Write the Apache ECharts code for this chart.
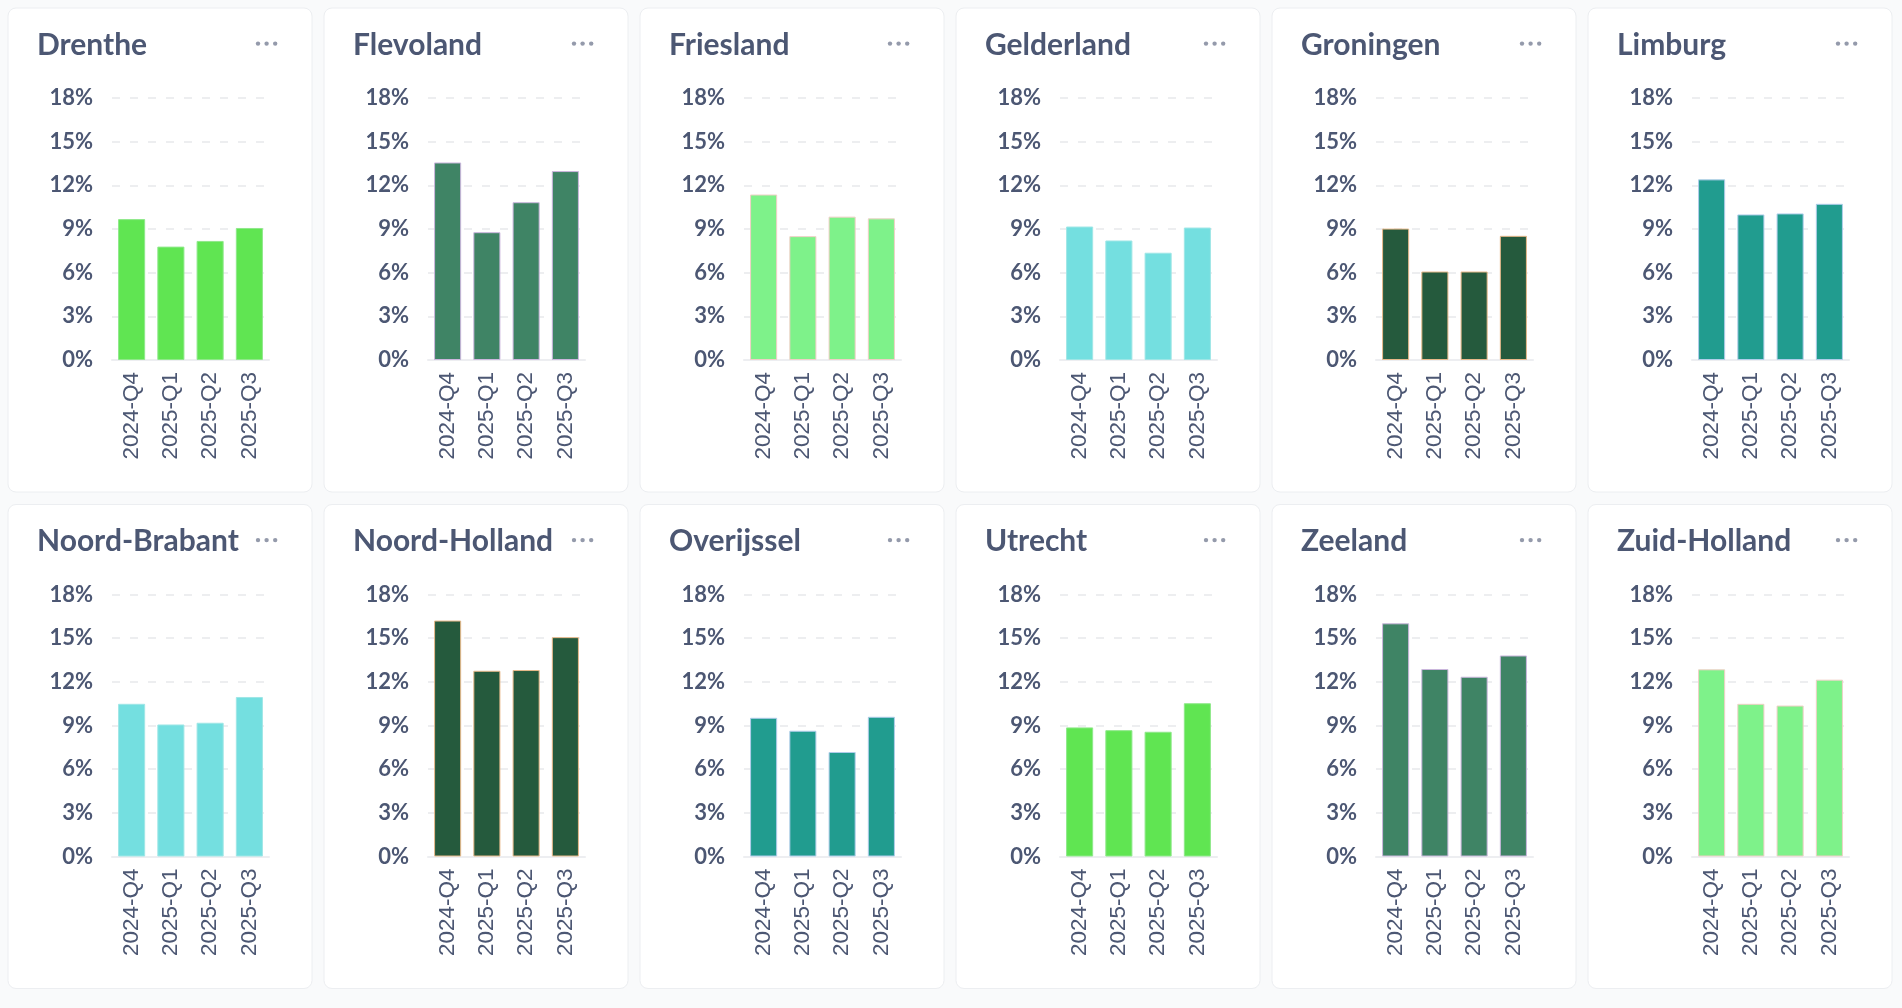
<!DOCTYPE html>
<html>
<head>
<meta charset="utf-8">
<script src="https://cdn.jsdelivr.net/npm/echarts@6/dist/echarts.min.js"></script>
<style>
  html, body { margin: 0; padding: 0; background: #f9fafb; }
  #main { width: 1902px; height: 1008px; }
</style>
</head>
<body>
<div id="main"></div>
<script>
const quarters = ["2024-Q4", "2025-Q1", "2025-Q2", "2025-Q3"];
const provinces = [
  "Drenthe", "Flevoland", "Friesland", "Gelderland", "Groningen", "Limburg",
  "Noord-Brabant", "Noord-Holland", "Overijssel", "Utrecht", "Zeeland", "Zuid-Holland",
];

// share per quarter, in %
const drenthe = [9.68, 7.79, 8.18, 9.07];
const flevoland = [13.57, 8.78, 10.84, 12.98];
const friesland = [11.37, 8.51, 9.85, 9.73];
const gelderland = [9.17, 8.21, 7.37, 9.1];
const groningen = [9.03, 6.08, 6.08, 8.53];
const limburg = [12.41, 10.0, 10.07, 10.73];
const noordBrabant = [10.49, 9.07, 9.19, 10.96];
const noordHolland = [16.21, 12.76, 12.81, 15.07];
const overijssel = [9.53, 8.64, 7.18, 9.6];
const utrecht = [8.87, 8.68, 8.57, 10.53];
const zeeland = [16.02, 12.88, 12.35, 13.81];
const zuidHolland = [12.86, 10.49, 10.37, 12.15];

const yTicks = [0, 3, 6, 9, 12, 15, 18];

const values = [
  drenthe, flevoland, friesland, gelderland, groningen, limburg,
  noordBrabant, noordHolland, overijssel, utrecht, zeeland, zuidHolland,
];

// bar fill / border per card
const palette = [
  ["#60e552", "#8fe88a"],
  ["#3f8465", "#cbb6dd"],
  ["#7ef28a", "#f0cfc6"],
  ["#74dfe0", "#9fe6e6"],
  ["#255a3d", "#e8b98a"],
  ["#219c8f", "#b0cdea"],
  ["#74dfe0", "#9fe6e6"],
  ["#255a3d", "#e8b98a"],
  ["#219c8f", "#b0cdea"],
  ["#60e552", "#8fe88a"],
  ["#3f8465", "#cbb6dd"],
  ["#7ef28a", "#f0cfc6"],
];

const textColor = "#4c5773";
const cardW = 304, cardH = 484, pitchX = 316, pitchY = 496.5;

const grids = [], xAxes = [], yAxes = [], series = [], titles = [], graphics = [];

provinces.forEach((name, i) => {
  const col = i % 6, row = Math.floor(i / 6);
  const cx = 8 + col * pitchX;
  const cy = 8 + row * pitchY;

  graphics.push({
    type: "rect", z: -10, silent: true,
    shape: { x: cx, y: cy, width: cardW, height: cardH, r: 8 },
    style: { fill: "#ffffff", stroke: "#eceef1", lineWidth: 1 },
  });
  [250, 258.6, 267.2].forEach((dx) => {
    graphics.push({
      type: "circle", silent: true,
      shape: { cx: cx + dx, cy: cy + 35.6, r: 2.2 },
      style: { fill: "#949aab" },
    });
  });

  titles.push({
    text: name,
    left: cx + 29,
    top: cy + 18,
    padding: 0,
    textStyle: { fontFamily: "Lato", fontWeight: "bold", fontSize: 30, lineHeight: 38, color: textColor },
  });

  grids.push({ left: cx + 104, top: cy + 90, width: 157, height: 262 });

  xAxes.push({
    type: "category",
    gridIndex: i,
    data: quarters,
    axisTick: { show: false },
    axisLine: { lineStyle: { color: "#edeef1", width: 2 } },
    axisLabel: {
      rotate: 90, interval: 0, margin: 12,
      fontFamily: "Liberation Sans", fontSize: 22.5, color: textColor,
    },
  });

  yAxes.push({
    type: "value",
    gridIndex: i,
    min: yTicks[0],
    max: yTicks[yTicks.length - 1],
    interval: yTicks[1] - yTicks[0],
    axisLine: { show: false },
    axisTick: { show: false },
    splitLine: { lineStyle: { color: "#e7e9ec", type: [8, 10], width: 1.5 } },
    axisLabel: {
      margin: 19,
      formatter: "{value}%",
      fontFamily: "Lato", fontWeight: "bold", fontSize: 22, color: textColor,
    },
  });

  series.push({
    type: "bar",
    name: name,
    xAxisIndex: i,
    yAxisIndex: i,
    data: values[i],
    barCategoryGap: "31%",
    itemStyle: { color: palette[i][0], borderColor: palette[i][1], borderWidth: 1 },
  });
});

const chart = echarts.init(document.getElementById("main"));
chart.setOption({
  animation: false,
  backgroundColor: "#f9fafb",
  title: titles,
  grid: grids,
  xAxis: xAxes,
  yAxis: yAxes,
  series: series,
  graphic: graphics,
});
</script>
</body>
</html>
